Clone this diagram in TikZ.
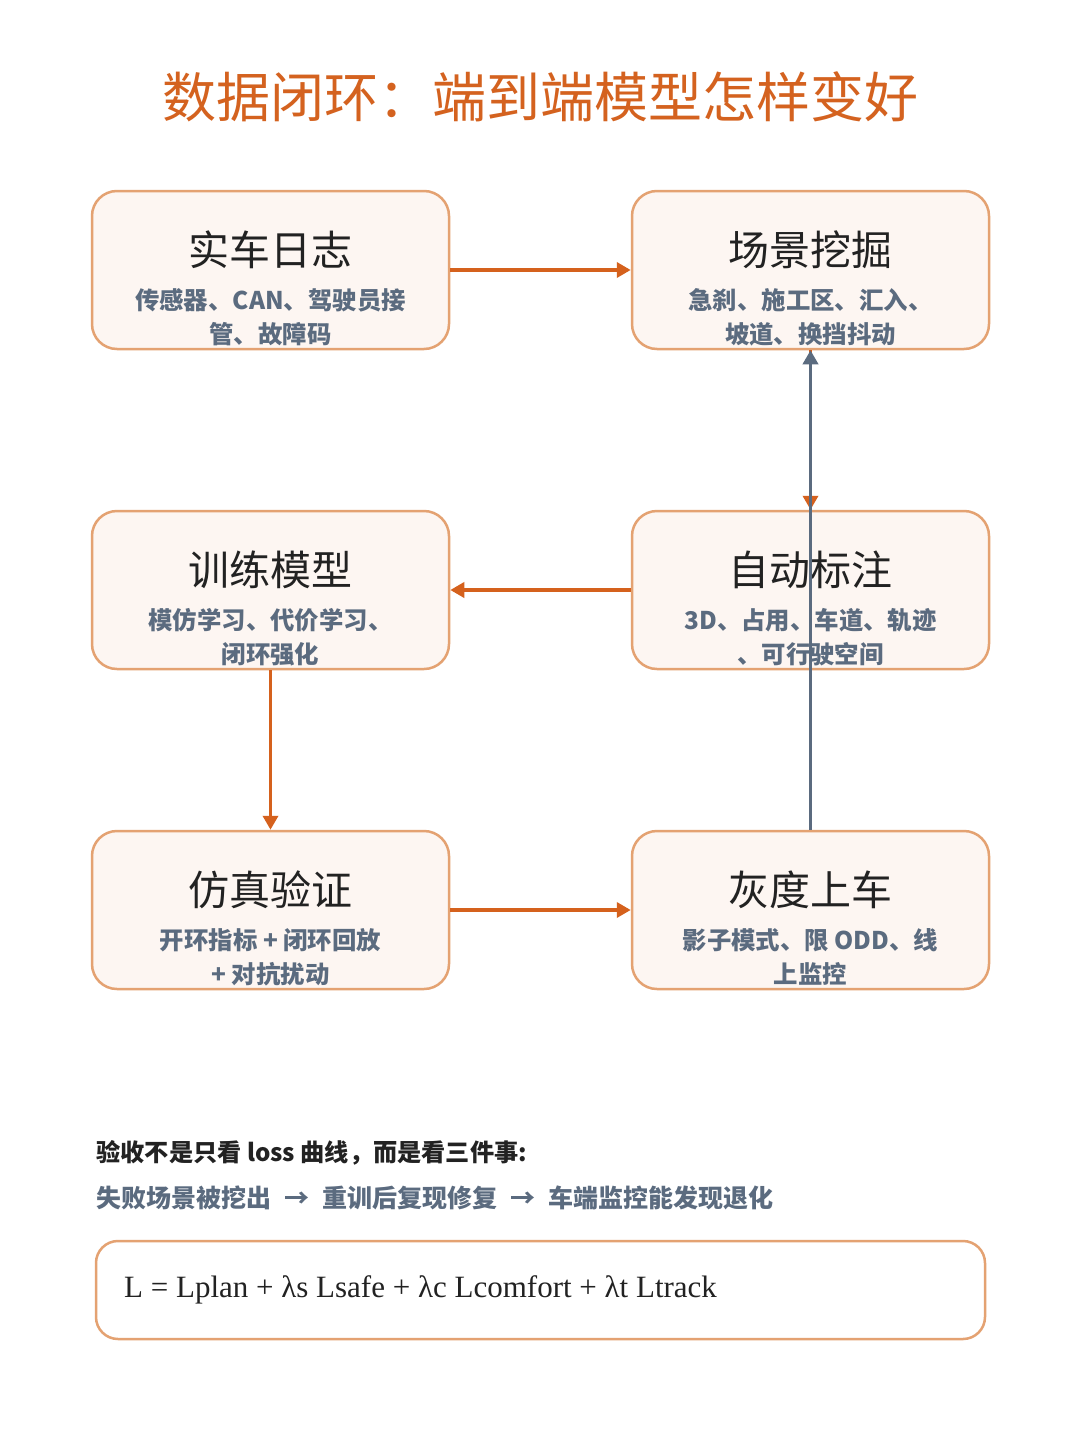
\documentclass[tikz,border=0pt]{standalone}
\usepackage{fontspec}
\setmainfont{Noto Sans CJK SC}
\newfontfamily\cjk{Noto Sans CJK SC}
\newfontfamily\latserif{Liberation Serif}
\usetikzlibrary{arrows.meta,calc}
\definecolor{ttlorange}{HTML}{D4621F}
\definecolor{arrorange}{HTML}{D5611D}
\definecolor{boxborder}{HTML}{E4A272}
\definecolor{boxfill}{HTML}{FDF6F2}
\definecolor{slate}{HTML}{5B6B7F}
\definecolor{darktext}{HTML}{222222}
\tikzset{
  stagebox/.style={draw=boxborder, fill=boxfill, line width=1.25pt, rounded corners=12.5pt,
    minimum width=178.5pt, minimum height=79pt, inner sep=0pt},
  stagetitle/.style={font=\cjk\fontsize{20.5}{24}\selectfont, text=darktext, inner sep=0pt},
  stagesub/.style={font=\cjk\bfseries\fontsize{12.2}{17}\selectfont, text=slate, align=center, inner sep=0pt},
  flow/.style={draw=arrorange, line width=1.9pt, -{Triangle[length=7pt,width=7.5pt]}},
  backflow/.style={draw=slate, line width=1.9pt, -{Triangle[length=7pt,width=7.5pt]}},
}
\begin{document}
\begin{tikzpicture}[x=0.5pt,y=-0.5pt]
\useasboundingbox[fill=white] (0,0) rectangle (1080,1450);

\node[font=\cjk\fontsize{27}{30}\selectfont, text=ttlorange, inner sep=0pt] (title) at (540,97) {数据闭环：端到端模型怎样变好};

\node[stagebox] (b1) at (270.5,270) {};
\node[stagebox] (b2) at (810.5,270) {};
\node[stagebox] (b3) at (270.5,590) {};
\node[stagebox] (b4) at (810.5,590) {};
\node[stagebox] (b5) at (270.5,910) {};
\node[stagebox] (b6) at (810.5,910) {};

\node[stagetitle] (t1) at ($(b1.center)+(0,-20)$) {实车日志};
\node[stagesub] (s1) at ($(b1.center)+(0,47)$) {传感器、CAN、驾驶员接\\管、故障码};
\node[stagetitle] (t2) at ($(b2.center)+(0,-20)$) {场景挖掘};
\node[stagesub] (s2) at ($(b2.center)+(0,47)$) {急刹、施工区、汇入、\\坡道、换挡抖动};
\node[stagetitle] (t3) at ($(b3.center)+(0,-20)$) {训练模型};
\node[stagesub] (s3) at ($(b3.center)+(0,47)$) {模仿学习、代价学习、\\闭环强化};
\node[stagetitle] (t4) at ($(b4.center)+(0,-20)$) {自动标注};
\node[stagesub] (s4) at ($(b4.center)+(0,47)$) {3D、占用、车道、轨迹\\、可行驶空间};
\node[stagetitle] (t5) at ($(b5.center)+(0,-20)$) {仿真验证};
\node[stagesub] (s5) at ($(b5.center)+(0,47)$) {开环指标 + 闭环回放\\+ 对抗扰动};
\node[stagetitle] (t6) at ($(b6.center)+(0,-20)$) {灰度上车};
\node[stagesub] (s6) at ($(b6.center)+(0,47)$) {影子模式、限 ODD、线\\上监控};

\draw[flow] (b1.east) -- (b2.west);
\draw[flow] (b2.south) -- (b4.north);
\draw[flow] (b4.west) -- (b3.east);
\draw[flow] (b3.south) -- (b5.north);
\draw[flow] (b5.east) -- (b6.west);
\draw[backflow] (b6.north) -- (b2.south);

\node[anchor=west, font=\cjk\bfseries\fontsize{12.1}{14}\selectfont, text=darktext, inner sep=0pt] (note1) at (96,1153) {验收不是只看 loss 曲线，而是看三件事:};
\node[anchor=west, font=\cjk\bfseries\fontsize{12.5}{14}\selectfont, text=slate, inner sep=0pt] (note2) at (96,1198) {失败场景被挖出\hspace{6.5pt}→\hspace{6.5pt}重训后复现修复\hspace{6.5pt}→\hspace{6.5pt}车端监控能发现退化};

\node[draw=boxborder, line width=1.25pt, rounded corners=11pt, minimum width=444.5pt, minimum height=49pt, inner sep=0pt, fill=white] (fbox) at (540.5,1290) {};
\node[anchor=west, font=\latserif\fontsize{15.5}{18}\selectfont, text=darktext, inner sep=0pt] (formula) at ($(fbox.west)+(29,0)$) {L = Lplan + λs Lsafe + λc Lcomfort + λt Ltrack};
\end{tikzpicture}
\end{document}
